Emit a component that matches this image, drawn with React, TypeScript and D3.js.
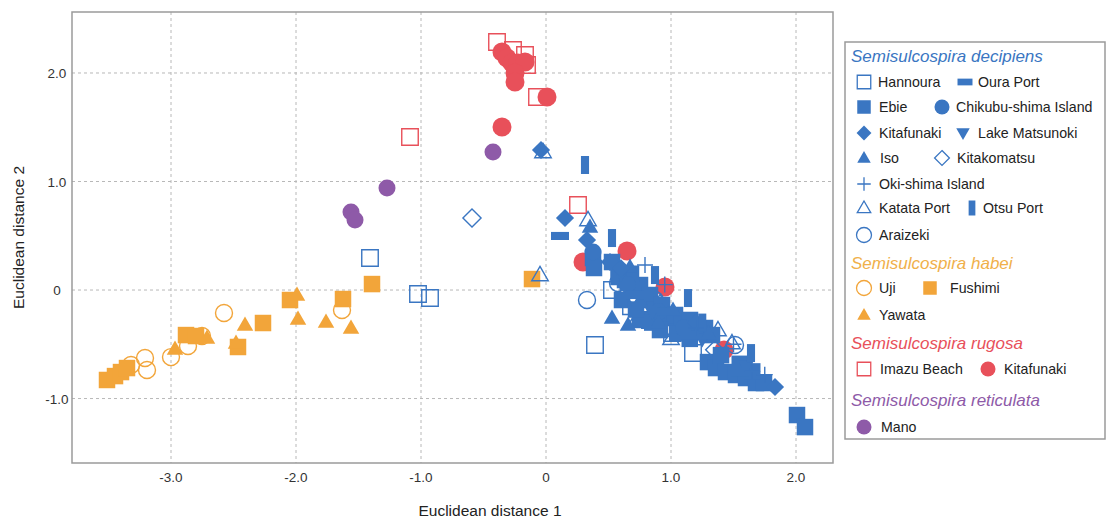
import React, { useEffect, useRef } from 'react';
import * as d3 from 'd3';

type Pt = [number, number];

// ---- data ----
const xTicks = [-3, -2, -1, 0, 1, 2];
const yTicks = [-1, 0, 1, 2];

// Semisulcospira decipiens
const hannoura: Pt[] = [[-1.408, 0.295], [-1.024, -0.037], [-0.928, -0.074], [0.392, -0.507], [1.176, -0.581], [0.528, 0.0], [0.952, -0.35], [1.008, -0.396], [0.832, -0.276], [0.68, -0.15]];
const ouraPort: Pt[] = [[0.112, 0.498], [0.712, -0.046], [1.152, -0.415], [1.552, -0.756], [0.96, -0.2]];
const ebie: Pt[] = [[0.376, 0.295], [0.384, 0.203], [0.528, 0.258], [0.632, 0.092], [0.688, 0.0], [0.752, 0.046], [0.792, -0.092], [0.832, -0.046], [0.872, -0.184], [0.928, -0.138], [0.976, -0.258], [1.032, -0.23], [1.088, -0.323], [1.152, -0.276], [1.208, -0.369], [1.272, -0.35], [1.328, -0.415], [1.296, -0.664], [1.36, -0.719], [1.44, -0.756], [1.52, -0.783], [1.6, -0.811], [1.68, -0.857], [1.744, -0.857], [0.608, -0.092], [0.752, -0.276], [0.912, -0.369], [2.008, -1.152], [2.072, -1.263], [0.72, -0.18], [0.85, -0.3], [1.05, -0.4], [1.15, -0.45], [0.68, 0.15], [0.58, 0.12], [1.4, -0.6], [1.55, -0.68], [1.65, -0.75]];
const chikubu: Pt[] = [[0.376, 0.35], [0.65, 0.05], [0.9, -0.2], [1.1, -0.35]];
const kitafunakiD: Pt[] = [[-0.04, 1.29], [0.152, 0.664], [0.328, 0.461], [0.512, 0.258], [1.832, -0.894], [0.6, 0.2], [1.2, -0.3]];
const lakeMatsunoki: Pt[] = [[0.6, 0.15], [0.85, -0.2], [1.25, -0.45], [1.6, -0.7]];
const iso: Pt[] = [[0.352, 0.581], [0.528, -0.258], [0.656, -0.322], [0.672, 0.212], [1.016, -0.184], [0.75, -0.1], [0.9, -0.3], [1.3, -0.4]];
const kitakomatsu: Pt[] = [[-0.592, 0.664], [0.7, -0.05], [1.35, -0.55]];
const okishima: Pt[] = [[0.792, 0.23], [0.95, 0.05], [1.2, -0.35], [1.5, -0.5], [1.75, -0.78], [1.65, -0.75]];
const katataPort: Pt[] = [[-0.024, 1.272], [0.336, 0.645], [-0.048, 0.138], [0.72, -0.28], [1.0, -0.45], [0.912, -0.12], [1.376, -0.369], [1.488, -0.489]];
const otsuPort: Pt[] = [[0.312, 1.152], [0.528, 0.479], [0.872, 0.138], [1.136, -0.074], [1.64, -0.581], [1.25, -0.3]];
const araizeki: Pt[] = [[0.328, -0.092], [0.576, 0.065], [1.072, -0.323], [1.512, -0.507], [0.872, -0.092]];

// Semisulcospira habei
const uji: Pt[] = [[-2.576, -0.212], [-1.632, -0.184], [-2.864, -0.516], [-3.0, -0.618], [-3.208, -0.627], [-3.192, -0.737], [-3.32, -0.691], [-2.752, -0.424]];
const fushimi: Pt[] = [[-3.512, -0.829], [-3.448, -0.793], [-3.4, -0.756], [-3.352, -0.719], [-2.88, -0.415], [-2.8, -0.424], [-2.464, -0.525], [-2.264, -0.304], [-2.048, -0.092], [-1.624, -0.083], [-1.392, 0.055], [-0.112, 0.101]];
const yawata: Pt[] = [[-1.992, -0.046], [-1.984, -0.267], [-2.408, -0.323], [-1.76, -0.295], [-1.56, -0.35], [-2.968, -0.544], [-2.712, -0.442], [-2.48, -0.488]];

// Semisulcospira rugosa
const imazuBeach: Pt[] = [[-0.392, 2.286], [-0.264, 2.212], [-0.168, 2.166], [-0.152, 2.074], [-0.072, 1.779], [-1.088, 1.41], [0.256, 0.783]];
const kitafunakiR: Pt[] = [[-0.352, 2.194], [-0.312, 2.138], [-0.272, 2.092], [-0.224, 2.092], [-0.168, 2.101], [-0.248, 2.0], [-0.248, 1.917], [0.008, 1.779], [-0.352, 1.502], [0.648, 0.359], [0.296, 0.258], [0.952, 0.028], [1.424, -0.553]];

// Semisulcospira reticulata
const mano: Pt[] = [[-0.424, 1.272], [-1.272, 0.94], [-1.56, 0.719], [-1.528, 0.645]];

const BLUE = '#3a76c2';
const ORANGE = '#f2a53a';
const RED = '#e8505a';
const PURPLE = '#8e5aa8';

type Shape = 'square' | 'circle' | 'diamond' | 'triangle' | 'triangleDown' | 'plus' | 'wide' | 'tall';
type Series = { name: string; shape: Shape; open: boolean; color: string; data: Pt[]; size?: number };

const series: Series[] = [
  { name: 'Uji', shape: 'circle', open: true, color: ORANGE, data: uji },
  { name: 'Fushimi', shape: 'square', open: false, color: ORANGE, data: fushimi },
  { name: 'Yawata', shape: 'triangle', open: false, color: ORANGE, data: yawata },
  { name: 'Mano', shape: 'circle', open: false, color: PURPLE, data: mano },
  { name: 'Imazu Beach', shape: 'square', open: true, color: RED, data: imazuBeach },
  { name: 'Kitafunaki R', shape: 'circle', open: false, color: RED, data: kitafunakiR, size: 19 },
  { name: 'Hannoura', shape: 'square', open: true, color: BLUE, data: hannoura },
  { name: 'Araizeki', shape: 'circle', open: true, color: BLUE, data: araizeki },
  { name: 'Kitakomatsu', shape: 'diamond', open: true, color: BLUE, data: kitakomatsu },
  { name: 'Katata Port', shape: 'triangle', open: true, color: BLUE, data: katataPort },
  { name: 'Ebie', shape: 'square', open: false, color: BLUE, data: ebie },
  { name: 'Chikubu-shima Island', shape: 'circle', open: false, color: BLUE, data: chikubu },
  { name: 'Lake Matsunoki', shape: 'triangleDown', open: false, color: BLUE, data: lakeMatsunoki },
  { name: 'Iso', shape: 'triangle', open: false, color: BLUE, data: iso },
  { name: 'Kitafunaki', shape: 'diamond', open: false, color: BLUE, data: kitafunakiD },
  { name: 'Oura Port', shape: 'wide', open: false, color: BLUE, data: ouraPort },
  { name: 'Otsu Port', shape: 'tall', open: false, color: BLUE, data: otsuPort },
  { name: 'Oki-shima Island', shape: 'plus', open: true, color: BLUE, data: okishima },
];

function shapePath(shape: Shape, s: number): string {
  const r = s / 2;
  switch (shape) {
    case 'square':
      return `M${-r},${-r}H${r}V${r}H${-r}Z`;
    case 'circle':
      return d3.symbol(d3.symbolCircle, Math.PI * r * r)()!;
    case 'diamond': {
      const q = r * 1.1;
      return `M0,${-q}L${q},0L0,${q}L${-q},0Z`;
    }
    case 'triangle': {
      const h = s * 0.866;
      return `M0,${-h * 0.6}L${r},${h * 0.4}L${-r},${h * 0.4}Z`;
    }
    case 'triangleDown': {
      const h = s * 0.866;
      return `M0,${h * 0.6}L${r},${-h * 0.4}L${-r},${-h * 0.4}Z`;
    }
    case 'plus':
      return `M${-r},0H${r}M0,${-r}V${r}`;
    case 'wide':
      return `M${-r},${-r * 0.45}H${r}V${r * 0.45}H${-r}Z`;
    case 'tall':
      return `M${-r * 0.45},${-r}H${r * 0.45}V${r}H${-r * 0.45}Z`;
  }
}

type LegendItem = { kind: 'header'; text: string; color: string; x: number; y: number } | { kind: 'item'; text: string; shape: Shape; open: boolean; color: string; mx: number; tx: number; y: number };

const legend: LegendItem[] = [
  { kind: 'header', text: 'Semisulcospira decipiens', color: BLUE, x: 851, y: 56 },
  { kind: 'item', text: 'Hannoura', shape: 'square', open: true, color: BLUE, mx: 864, tx: 878, y: 82 },
  { kind: 'item', text: 'Oura Port', shape: 'wide', open: false, color: BLUE, mx: 965, tx: 978, y: 82 },
  { kind: 'item', text: 'Ebie', shape: 'square', open: false, color: BLUE, mx: 864, tx: 879, y: 107 },
  { kind: 'item', text: 'Chikubu-shima Island', shape: 'circle', open: false, color: BLUE, mx: 942, tx: 956, y: 107 },
  { kind: 'item', text: 'Kitafunaki', shape: 'diamond', open: false, color: BLUE, mx: 864, tx: 879, y: 133 },
  { kind: 'item', text: 'Lake Matsunoki', shape: 'triangleDown', open: false, color: BLUE, mx: 963, tx: 978, y: 133 },
  { kind: 'item', text: 'Iso', shape: 'triangle', open: false, color: BLUE, mx: 864, tx: 880, y: 158 },
  { kind: 'item', text: 'Kitakomatsu', shape: 'diamond', open: true, color: BLUE, mx: 942, tx: 957, y: 158 },
  { kind: 'item', text: 'Oki-shima Island', shape: 'plus', open: true, color: BLUE, mx: 864, tx: 879, y: 184 },
  { kind: 'item', text: 'Katata Port', shape: 'triangle', open: true, color: BLUE, mx: 864, tx: 879, y: 208 },
  { kind: 'item', text: 'Otsu Port', shape: 'tall', open: false, color: BLUE, mx: 972, tx: 983, y: 208 },
  { kind: 'item', text: 'Araizeki', shape: 'circle', open: true, color: BLUE, mx: 864, tx: 879, y: 235 },
  { kind: 'header', text: 'Semisulcospira habei', color: '#f0b04a', x: 851, y: 263 },
  { kind: 'item', text: 'Uji', shape: 'circle', open: true, color: ORANGE, mx: 864, tx: 879, y: 288 },
  { kind: 'item', text: 'Fushimi', shape: 'square', open: false, color: ORANGE, mx: 930, tx: 950, y: 288 },
  { kind: 'item', text: 'Yawata', shape: 'triangle', open: false, color: ORANGE, mx: 864, tx: 879, y: 315 },
  { kind: 'header', text: 'Semisulcospira rugosa', color: RED, x: 851, y: 343 },
  { kind: 'item', text: 'Imazu Beach', shape: 'square', open: true, color: RED, mx: 864, tx: 880, y: 369 },
  { kind: 'item', text: 'Kitafunaki', shape: 'circle', open: false, color: RED, mx: 988, tx: 1004, y: 369 },
  { kind: 'header', text: 'Semisulcospira reticulata', color: PURPLE, x: 851, y: 400 },
  { kind: 'item', text: 'Mano', shape: 'circle', open: false, color: PURPLE, mx: 864, tx: 881, y: 427 },
];

const W = 1108;
const H = 528;
const FONT = '"Liberation Sans", Arial, Helvetica, sans-serif';

const App: React.FC = () => {
  const svgRef = useRef<SVGSVGElement | null>(null);

  useEffect(() => {
    if (!svgRef.current) return;
    const svg = d3.select(svgRef.current);
    svg.selectAll('*').remove();

    const frame = { left: 72, top: 12, right: 833, bottom: 463 };
    const x = d3.scaleLinear().domain([-3.792, 2.296]).range([frame.left, frame.right]);
    const y = d3.scaleLinear().domain([-1.594, 2.562]).range([frame.bottom, frame.top]);

    // grid
    const grid = svg.append('g').attr('stroke', '#b8b8b8').attr('stroke-dasharray', '3,3').attr('stroke-width', 1);
    xTicks.forEach(t => {
      grid.append('line').attr('x1', x(t)).attr('x2', x(t)).attr('y1', frame.top).attr('y2', frame.bottom);
    });
    yTicks.forEach(t => {
      grid.append('line').attr('x1', frame.left).attr('x2', frame.right).attr('y1', y(t)).attr('y2', y(t));
    });

    // tick labels
    const fmt = (v: number) => (v === 0 ? '0' : v.toFixed(1));
    xTicks.forEach(t => {
      svg.append('text')
        .attr('x', x(t)).attr('y', frame.bottom + 19)
        .attr('text-anchor', 'middle').attr('font-family', FONT).attr('font-size', 13.5)
        .attr('fill', '#333').text(fmt(t));
    });
    yTicks.forEach(t => {
      svg.append('text')
        .attr('x', 57).attr('y', y(t) + 5)
        .attr('text-anchor', 'middle').attr('font-family', FONT).attr('font-size', 13.5)
        .attr('fill', '#333').text(fmt(t));
    });

    // axis titles
    svg.append('text')
      .attr('x', 490).attr('y', 516)
      .attr('text-anchor', 'middle').attr('font-family', FONT).attr('font-size', 15.5)
      .attr('fill', '#222').text('Euclidean distance 1');
    svg.append('text')
      .attr('transform', `translate(24,${(frame.top + frame.bottom) / 2}) rotate(-90)`)
      .attr('text-anchor', 'middle').attr('font-family', FONT).attr('font-size', 15.5)
      .attr('fill', '#222').text('Euclidean distance 2');

    // points
    const pts = svg.append('g');
    series.forEach(s => {
      const size = s.size ?? (s.shape === 'circle' ? 17 : s.shape === 'plus' ? 16 : s.shape === 'wide' || s.shape === 'tall' ? 18 : 16.5);
      const d = shapePath(s.shape, size);
      s.data.forEach(([px, py]) => {
        pts.append('path')
          .attr('d', d)
          .attr('transform', `translate(${x(px)},${y(py)})`)
          .attr('fill', s.open ? 'none' : s.color)
          .attr('stroke', s.open ? s.color : 'none')
          .attr('stroke-width', s.open ? 1.4 : 0);
      });
    });

    // frame
    svg.append('rect')
      .attr('x', frame.left).attr('y', frame.top)
      .attr('width', frame.right - frame.left).attr('height', frame.bottom - frame.top)
      .attr('fill', 'none').attr('stroke', '#9a9a9a').attr('stroke-width', 1.5);

    // legend
    svg.append('rect')
      .attr('x', 845).attr('y', 42).attr('width', 260).attr('height', 397)
      .attr('fill', 'none').attr('stroke', '#9a9a9a').attr('stroke-width', 1.5);
    const lg = svg.append('g');
    legend.forEach(it => {
      if (it.kind === 'header') {
        lg.append('text')
          .attr('x', it.x).attr('y', it.y + 6)
          .attr('font-family', FONT).attr('font-style', 'italic').attr('font-size', 17)
          .attr('fill', it.color).text(it.text);
      } else {
        const size = it.shape === 'circle' ? 15 : it.shape === 'wide' || it.shape === 'tall' ? 15 : 13.5;
        lg.append('path')
          .attr('d', shapePath(it.shape, size))
          .attr('transform', `translate(${it.mx},${it.y})`)
          .attr('fill', it.open ? 'none' : it.color)
          .attr('stroke', it.open ? it.color : 'none')
          .attr('stroke-width', it.open ? 1.3 : 0);
        lg.append('text')
          .attr('x', it.tx).attr('y', it.y + 5)
          .attr('font-family', FONT).attr('font-size', 14.2)
          .attr('fill', '#222').text(it.text);
      }
    });
  }, []);

  return (
    <svg
      ref={svgRef}
      width={W}
      height={H}
      style={{ position: 'absolute', left: 0, top: 0, background: '#fff', display: 'block' }}
    />
  );
};

export default App;
